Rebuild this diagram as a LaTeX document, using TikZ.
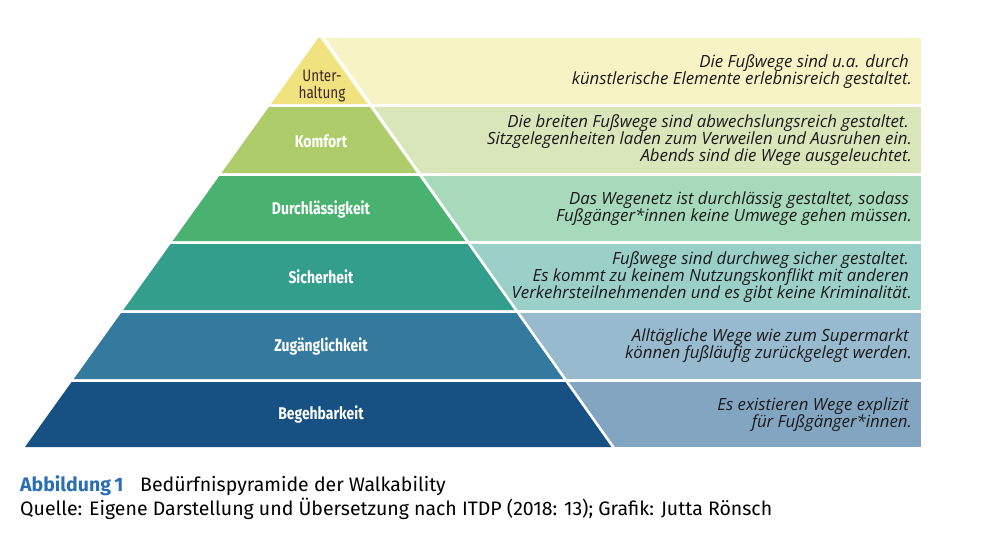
\documentclass[tikz,border=0pt]{standalone}
\usepackage{fontspec}
\setmainfont{Fira Sans}
\newfontfamily\panelfont{Open Sans}
\newfontfamily\condfont{Fira Sans}[FakeStretch=0.82]
\definecolor{pyA}{HTML}{F0E27E}
\definecolor{pnA}{HTML}{F7F3C4}
\definecolor{pyB}{HTML}{AECC6A}
\definecolor{pnB}{HTML}{D8E6BA}
\definecolor{pyC}{HTML}{4AB270}
\definecolor{pnC}{HTML}{A6DABA}
\definecolor{pyD}{HTML}{349E8C}
\definecolor{pnD}{HTML}{9AD0C8}
\definecolor{pyE}{HTML}{347A9E}
\definecolor{pnE}{HTML}{98BACE}
\definecolor{pyF}{HTML}{175082}
\definecolor{pnF}{HTML}{82A6C2}
\definecolor{capblue}{HTML}{2A6EB4}
\definecolor{paneltextcol}{HTML}{1A1A1A}
\definecolor{toplabel}{HTML}{3A2A2A}
\tikzset{
  paneltext/.style={anchor=east, inner sep=0pt, align=right, text=paneltextcol,
    font={\panelfont\itshape\fontsize{16.8}{17}\selectfont}},
  layerlabel/.style={inner sep=0pt, text=white,
    font={\condfont\bfseries\fontsize{17}{19}\selectfont}},
  captext/.style={anchor=base west, inner sep=0pt, text=black,
    font={\fontsize{19.5}{22}\selectfont}},
}
\begin{document}
\begin{tikzpicture}[x=1pt,y=-1pt]
\useasboundingbox (0,0) rectangle (1000,536);
% panels
\fill[pnA] (319,38) rectangle (921,104);
\fill[pnB] (319,107) rectangle (921,173);
\fill[pnC] (319,176) rectangle (921,241);
\fill[pnD] (319,244) rectangle (921,310);
\fill[pnE] (319,313) rectangle (921,379);
\fill[pnF] (319,382) rectangle (921,447);
% pyramid layers
\fill[pyA] (319,37) -- (367.0,104) -- (271.0,104) -- cycle;
\fill[pyB] (268.8,107) -- (369.2,107) -- (416.5,173) -- (221.5,173) -- cycle;
\fill[pyC] (219.3,176) -- (418.7,176) -- (465.3,241) -- (172.7,241) -- cycle;
\fill[pyD] (170.6,244) -- (467.4,244) -- (514.7,310) -- (123.3,310) -- cycle;
\fill[pyE] (121.1,313) -- (516.9,313) -- (564.2,379) -- (73.8,379) -- cycle;
\fill[pyF] (71.6,382) -- (566.4,382) -- (613.0,447) -- (25.0,447) -- cycle;
% white separator along right edge
\coordinate (apexsep) at (320.6,34);
\coordinate (basesep) at (614.6,449);
\draw[white, line width=2.6pt] (apexsep) -- (basesep);
% pyramid labels
\node[inner sep=0pt, align=center, text=toplabel, font={\condfont\fontsize{16.5}{16.5}\selectfont}] (lA) at (322,86) {Unter-\\haltung};
\node[layerlabel] (lB) at (321,141) {Komfort};
\node[layerlabel] (lC) at (321,209) {Durchlässigkeit};
\node[layerlabel] (lD) at (321,277) {Sicherheit};
\node[layerlabel] (lE) at (321,346) {Zugänglichkeit};
\node[layerlabel] (lF) at (321,414) {Begehbarkeit};
% panel texts
\node[paneltext] (tA) at (912,72) {Die Fußwege sind u.a. durch\rule{3pt}{0pt}\\künstlerische Elemente erlebnisreich gestaltet.};
\node[paneltext] (tB) at (912,140) {Die breiten Fußwege sind abwechslungsreich gestaltet.\rule{3pt}{0pt}\\Sitzgelegenheiten laden zum Verweilen und Ausruhen ein.\\Abends sind die Wege ausgeleuchtet.};
\node[paneltext] (tC) at (912,208.5) {Das Wegenetz ist durchlässig gestaltet, sodass\rule{3pt}{0pt}\\Fußgänger*innen keine Umwege gehen müssen.};
\node[paneltext] (tD) at (912,277) {Fußwege sind durchweg sicher gestaltet.\rule{3pt}{0pt}\\Es kommt zu keinem Nutzungskonflikt mit anderen\rule{3pt}{0pt}\\Verkehrsteilnehmenden und es gibt keine Kriminalität.};
\node[paneltext] (tE) at (912,346) {Alltägliche Wege wie zum Supermarkt\rule{3pt}{0pt}\\können fußläufig zurückgelegt werden.};
\node[paneltext] (tF) at (912,414.5) {Es existieren Wege explizit\rule{3pt}{0pt}\\für Fußgänger*innen.};
% caption
\node[captext, text=capblue, font={\bfseries\fontsize{19.5}{22}\selectfont}] (capA) at (20,491) {Abbildung\,1};
\node[captext] (capB) at (140,491) {Bedürfnispyramide der Walkability};
\node[captext] (capC) at (20,515) {Quelle: Eigene Darstellung und Übersetzung nach ITDP (2018: 13); Grafik: Jutta Rönsch};
\end{tikzpicture}
\end{document}
